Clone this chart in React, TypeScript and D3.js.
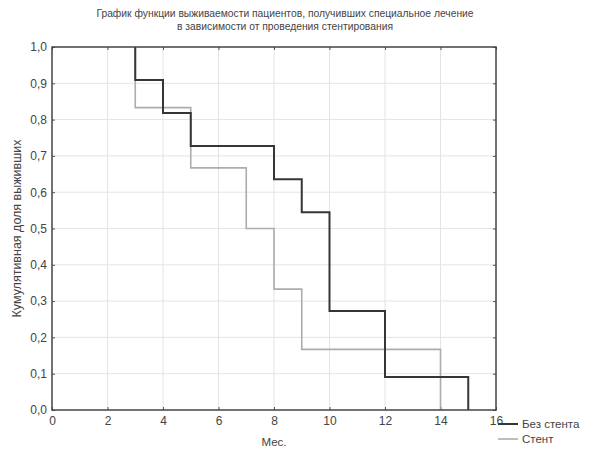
import React, { useRef, useEffect } from 'react';
import * as d3 from 'd3';

// Kaplan-Meier step points (months, cumulative survival)
const noStentTimes = [3, 4, 5, 8, 9, 10, 12, 15];
const noStentSurv = [0.909, 0.818, 0.727, 0.636, 0.545, 0.273, 0.091, 0.0];
const stentTimes = [3, 5, 7, 8, 9, 14];
const stentSurv = [0.833, 0.667, 0.5, 0.333, 0.167, 0.0];

const xTicks = [0, 2, 4, 6, 8, 10, 12, 14, 16];
const yTicks = [0, 0.1, 0.2, 0.3, 0.4, 0.5, 0.6, 0.7, 0.8, 0.9, 1.0];

const titleLines = [
  'График функции выживаемости пациентов, получивших специальное лечение',
  'в зависимости от проведения стентирования',
];
const seriesNames = ['Без стента', 'Стент'];

const W = 600;
const H = 451;
const margin = { top: 47, right: 104, bottom: 41, left: 52 };
const font = '"Liberation Sans", Arial, sans-serif';

const fmt = (v: number) => d3.format('.1f')(v).replace('.', ',');

const App = () => {
  const svgRef = useRef<SVGSVGElement>(null);

  useEffect(() => {
    const svg = d3.select(svgRef.current);
    svg.selectAll('*').remove();

    const x = d3.scaleLinear().domain([0, 16]).range([margin.left, W - margin.right]);
    const y = d3.scaleLinear().domain([0, 1]).range([H - margin.bottom, margin.top]);

    svg.append('rect').attr('width', W).attr('height', H).attr('fill', '#fff');

    // grid
    const grid = svg.append('g').attr('stroke', '#e4e4e4').attr('stroke-width', 1);
    xTicks.slice(1, -1).forEach(t => {
      grid.append('line')
        .attr('x1', x(t)).attr('x2', x(t))
        .attr('y1', y(0)).attr('y2', y(1));
    });
    yTicks.slice(1, -1).forEach(t => {
      grid.append('line')
        .attr('x1', x(0)).attr('x2', x(16))
        .attr('y1', y(t)).attr('y2', y(t));
    });

    // axes
    const xAxis = d3.axisBottom(x).tickValues(xTicks).tickSize(-3).tickPadding(6).tickFormat(d => String(d));
    const gx = svg.append('g').attr('transform', `translate(0,${y(0)})`).call(xAxis);
    const yAxis = d3.axisLeft(y).tickValues(yTicks).tickSize(-3).tickPadding(5).tickFormat(d => fmt(+d));
    const gy = svg.append('g').attr('transform', `translate(${x(0)},0)`).call(yAxis);
    // top / right ticks
    svg.append('g').attr('transform', `translate(0,${y(1)})`)
      .call(d3.axisTop(x).tickValues(xTicks).tickSize(-3).tickFormat(() => ''));
    svg.append('g').attr('transform', `translate(${x(16)},0)`)
      .call(d3.axisRight(y).tickValues(yTicks).tickSize(-3).tickFormat(() => ''));

    svg.selectAll('.domain').remove();
    svg.selectAll('.tick line').attr('stroke', '#555');
    [gx, gy].forEach(g => g.selectAll('text')
      .attr('font-family', font).attr('font-size', 12).attr('fill', '#444'));

    // series
    const makeSteps = (times: number[], surv: number[]) => {
      const pts: [number, number][] = [[times[0], 1]];
      times.forEach((t, i) => {
        const prev = i === 0 ? 1 : surv[i - 1];
        if (i > 0) pts.push([t, prev]);
        pts.push([t, surv[i]]);
      });
      return pts;
    };
    const line = d3.line<[number, number]>().x(d => x(d[0])).y(d => y(d[1]));

    svg.append('path').datum(makeSteps(stentTimes, stentSurv))
      .attr('d', line).attr('fill', 'none')
      .attr('stroke', '#acacac').attr('stroke-width', 1.6);
    svg.append('path').datum(makeSteps(noStentTimes, noStentSurv))
      .attr('d', line).attr('fill', 'none')
      .attr('stroke', '#363636').attr('stroke-width', 2);

    // frame
    svg.append('rect')
      .attr('x', x(0)).attr('y', y(1))
      .attr('width', x(16) - x(0)).attr('height', y(0) - y(1))
      .attr('fill', 'none').attr('stroke', '#444').attr('stroke-width', 1.5);

    // title
    titleLines.forEach((t, i) => {
      svg.append('text')
        .attr('x', 285).attr('y', 17 + i * 13)
        .attr('text-anchor', 'middle')
        .attr('font-family', font).attr('font-size', 10.3).attr('fill', '#444')
        .text(t);
    });

    // axis labels
    svg.append('text')
      .attr('x', x(8)).attr('y', 446)
      .attr('text-anchor', 'middle')
      .attr('font-family', font).attr('font-size', 11.5).attr('fill', '#444')
      .text('Мес.');
    svg.append('text')
      .attr('transform', `translate(21,${y(0.5)}) rotate(-90)`)
      .attr('text-anchor', 'middle')
      .attr('font-family', font).attr('font-size', 12.5).attr('fill', '#444')
      .text('Кумулятивная доля выживших');

    // legend
    const legend = svg.append('g').attr('transform', `translate(${x(16) + 2},0)`);
    seriesNames.forEach((name, i) => {
      const ly = 424 + i * 15;
      legend.append('line')
        .attr('x1', 0).attr('x2', 20).attr('y1', ly).attr('y2', ly)
        .attr('stroke', i === 0 ? '#363636' : '#acacac')
        .attr('stroke-width', i === 0 ? 2 : 1.6);
      legend.append('text')
        .attr('x', 24).attr('y', ly + 4)
        .attr('font-family', font).attr('font-size', 11.5).attr('fill', '#444')
        .text(name);
    });
  }, []);

  return (
    <div style={{ position: 'absolute', left: 0, top: 0 }}>
      <svg ref={svgRef} width={W} height={H} style={{ display: 'block' }}></svg>
    </div>
  );
};

export default App;
